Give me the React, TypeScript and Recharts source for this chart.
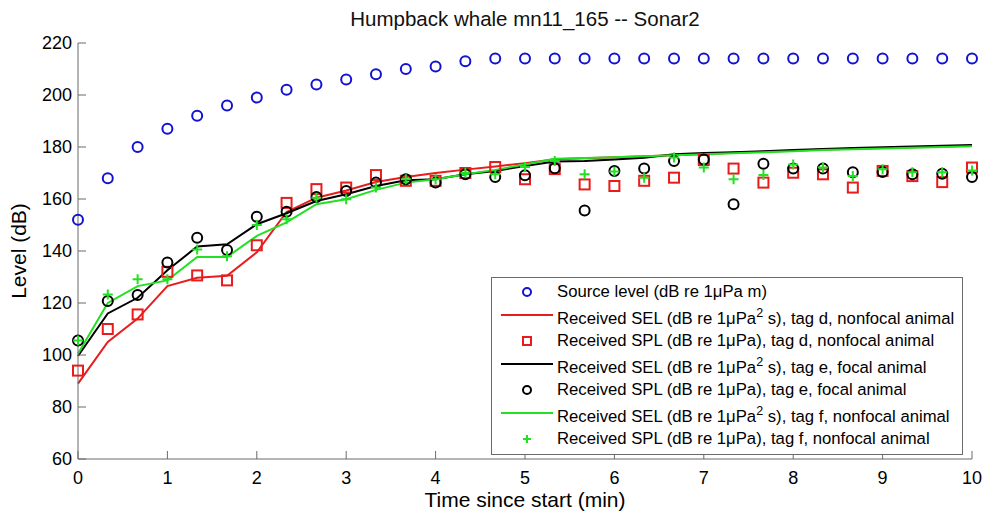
import { ComposedChart, Label, Legend, Line, XAxis, YAxis } from "recharts";

// minutes since start, one sample every 20 s
const time = [
  0, 0.333, 0.667, 1, 1.333, 1.667, 2, 2.333, 2.667, 3, 3.333, 3.667, 4, 4.333, 4.667, 5,
  5.333, 5.667, 6, 6.333, 6.667, 7, 7.333, 7.667, 8, 8.333, 8.667, 9, 9.333, 9.667, 10,
];

const sourceLevel = [
  152, 168, 180, 187, 192, 196, 199, 202, 204, 206, 208, 210, 211, 213, 214, 214,
  214, 214, 214, 214, 214, 214, 214, 214, 214, 214, 214, 214, 214, 214, 214,
];

// tag d, nonfocal
const selD = [
  89, 105, 114, 126.5, 129.7, 130.5, 139.5, 155, 160.5, 163.3, 166.5, 168.5, 170, 171.3, 172.5, 173.8,
  175.3, 175.7, 176.1, 176.4, 176.8, 177.3, 177.8, 178.2, 178.6, 179, 179.3, 179.6, 179.9, 180.2, 180.5,
];
const splD = [
  94, 110, 115.6, 132, 130.6, 128.7, 142.2, 158.5, 163.8, 164.4, 169.2, 167, 167, 170, 172.3, 167.6,
  171.5, 165.6, 165, 167, 168.2, 175, 171.7, 166.3, 170.1, 169.5, 164.4, 170.8, 168.8, 166.5, 172.1,
];

// tag e, focal
const selE = [
  99.6, 116, 122, 132.6, 141.7, 142.6, 150.3, 154.5, 159.2, 161.8, 165, 167.2, 167.6, 169.5, 170.8, 172.7,
  174.4, 174.6, 175.2, 175.9, 177.2, 177.7, 178, 178.4, 178.8, 179.2, 179.6, 179.9, 180.2, 180.5, 180.8,
];
const splE = [
  105.6, 120.8, 123.1, 135.6, 145.1, 140.4, 153.2, 155.1, 160.8, 163.1, 166.3, 167.6, 166.3, 169.5, 168.5, 169.1,
  171.8, 155.6, 170.8, 171.7, 174.6, 175.2, 158, 173.6, 171.7, 171.7, 170.3, 170.4, 169.5, 169.7, 168.5,
];

// tag f, nonfocal
const selF = [
  100.5, 120, 126.5, 128.7, 137.7, 137.7, 145.8, 151, 158, 159.9, 163.5, 166.3, 167.6, 169.5, 171.2, 173.3,
  175.5, 175.8, 176.1, 176.4, 176.8, 177.2, 177.6, 178, 178.4, 178.8, 179.1, 179.4, 179.7, 180, 180.3,
];
const splF = [
  105.6, 123.3, 129.1, 129.1, 140.6, 138, 150, 152.2, 160.5, 159.9, 164.4, 167.6, 167.6, 170.1, 169.5, 172.3,
  174.6, 169.5, 170.6, 168.2, 176, 172.1, 167.6, 169.2, 173.3, 172.1, 168.8, 171.4, 170.3, 170.3, 171,
];

const xTicks = [0, 1, 2, 3, 4, 5, 6, 7, 8, 9, 10];
const yTicks = [60, 80, 100, 120, 140, 160, 180, 200, 220];

const BLUE = "#1212d4";
const RED = "#e81c1c";
const BLACK = "#000000";
const GREEN = "#22e022";
const AXIS = "#6a6a6a";
const FONT = '"Liberation Sans", Arial, sans-serif';

const data = time.map((t, i) => ({
  t,
  src: sourceLevel[i],
  selD: selD[i],
  splD: splD[i],
  selE: selE[i],
  splE: splE[i],
  selF: selF[i],
  splF: splF[i],
}));

type Marker = "circle" | "square" | "plus";

function drawMarker(kind: Marker, color: string, cx: number, cy: number, s: number, key?: any) {
  if (kind === "circle")
    return <circle key={key} cx={cx} cy={cy} r={s} fill="none" stroke={color} strokeWidth={2} />;
  if (kind === "square")
    return (
      <rect key={key} x={cx - s} y={cy - s} width={s * 2} height={s * 2} fill="none" stroke={color} strokeWidth={2} />
    );
  return (
    <path
      key={key}
      d={`M${cx - s},${cy}H${cx + s}M${cx},${cy - s}V${cy + s}`}
      stroke={color}
      strokeWidth={2}
      fill="none"
    />
  );
}

const dotOf = (kind: Marker, color: string) => (p: any) => {
  if (p.cx == null || p.cy == null) return <g key={p.key ?? p.index} />;
  return drawMarker(kind, color, p.cx, p.cy, 5, p.key ?? p.index);
};

const legendRows = [
  { kind: "circle", color: BLUE, text: "Source level (dB re 1\u03bcPa m)" },
  { kind: "line", color: RED, text: "Received SEL (dB re 1\u03bcPa", sup: "2", rest: " s), tag d, nonfocal animal" },
  { kind: "square", color: RED, text: "Received SPL (dB re 1\u03bcPa), tag d, nonfocal animal" },
  { kind: "line", color: BLACK, text: "Received SEL (dB re 1\u03bcPa", sup: "2", rest: " s), tag e, focal animal" },
  { kind: "circle", color: BLACK, text: "Received SPL (dB re 1\u03bcPa), tag e, focal animal" },
  { kind: "line", color: GREEN, text: "Received SEL (dB re 1\u03bcPa", sup: "2", rest: " s), tag f, nonfocal animal" },
  { kind: "plus", color: GREEN, text: "Received SPL (dB re 1\u03bcPa), tag f, nonfocal animal" },
];

function LegendBox() {
  return (
    <div
      style={{
        border: `1px solid ${AXIS}`,
        background: "#fff",
        padding: "3px 0 4px 0",
        fontFamily: FONT,
        fontSize: 16.7,
        color: "#000",
        boxSizing: "border-box",
      }}
    >
      {legendRows.map((r, i) => {
        const isLine = r.kind === "line";
        return (
          <div
            key={i}
            style={{ display: "flex", alignItems: "center", height: 22, marginTop: isLine ? 5 : 0 }}
          >
            <svg width={65} height={22} style={{ flex: "none" }}>
              {isLine ? (
                <line x1={9} x2={61} y1={7} y2={7} stroke={r.color} strokeWidth={2} />
              ) : (
                drawMarker(r.kind as Marker, r.color, 35, 11, 4)
              )}
            </svg>
            <span style={{ whiteSpace: "nowrap" }}>
              {r.text}
              {r.sup && <sup style={{ fontSize: "0.75em", lineHeight: 0 }}>{r.sup}</sup>}
              {r.rest}
            </span>
          </div>
        );
      })}
    </div>
  );
}

export default function App() {
  const tickStyle = { fill: "#000", fontSize: 18, fontFamily: FONT };
  return (
    <div style={{ position: "absolute", left: 0, top: 0, width: 989, height: 519, background: "#fff", fontFamily: FONT }}>
      <div
        style={{
          position: "absolute",
          top: 7,
          left: 78,
          width: 894,
          textAlign: "center",
          fontSize: 20.5,
          color: "#111",
        }}
      >
        Humpback whale mn11_165 -- Sonar2
      </div>
      <ComposedChart width={989} height={519} data={data} margin={{ top: 43, right: 17, bottom: 0, left: 0 }}>
        <XAxis
          dataKey="t"
          type="number"
          domain={[0, 10]}
          ticks={xTicks}
          height={60}
          stroke={AXIS}
          tickSize={-8}
          tickMargin={20}
          tick={tickStyle}
        >
          <Label
            value="Time since start (min)"
            position="insideBottom"
            offset={12}
            style={{ fill: "#000", fontSize: 21, fontFamily: FONT }}
          />
        </XAxis>
        <YAxis
          type="number"
          domain={[60, 220]}
          ticks={yTicks}
          width={78}
          stroke={AXIS}
          tickSize={-8}
          tickMargin={14}
          tick={tickStyle}
        >
          <Label
            value="Level (dB)"
            angle={-90}
            position="insideLeft"
            offset={19}
            style={{ fill: "#000", fontSize: 21, fontFamily: FONT, textAnchor: "middle" }}
          />
        </YAxis>
        <XAxis
          xAxisId="top"
          orientation="top"
          type="number"
          domain={[0, 10]}
          allowDataOverflow
          ticks={xTicks}
          height={0}
          stroke={AXIS}
          tickSize={-8}
          tickFormatter={() => ""}
        />
        <YAxis
          yAxisId="right"
          orientation="right"
          type="number"
          domain={[60, 220]}
          allowDataOverflow
          ticks={yTicks}
          width={0}
          stroke={AXIS}
          tickSize={-8}
          tickFormatter={() => ""}
        />
        <Legend
          layout="horizontal"
          verticalAlign="middle"
          align="center"
          wrapperStyle={{ left: 491, top: 277, width: 472 }}
          content={() => <LegendBox />}
        />

        <Line dataKey="src" stroke="none" dot={dotOf("circle", BLUE)} activeDot={false} isAnimationActive={false} />
        <Line dataKey="selD" stroke={RED} strokeWidth={2} dot={false} activeDot={false} isAnimationActive={false} />
        <Line dataKey="splD" stroke="none" dot={dotOf("square", RED)} activeDot={false} isAnimationActive={false} />
        <Line dataKey="selE" stroke={BLACK} strokeWidth={2} dot={false} activeDot={false} isAnimationActive={false} />
        <Line dataKey="splE" stroke="none" dot={dotOf("circle", BLACK)} activeDot={false} isAnimationActive={false} />
        <Line dataKey="selF" stroke={GREEN} strokeWidth={2} dot={false} activeDot={false} isAnimationActive={false} />
        <Line dataKey="splF" stroke="none" dot={dotOf("plus", GREEN)} activeDot={false} isAnimationActive={false} />
      </ComposedChart>
    </div>
  );
}
